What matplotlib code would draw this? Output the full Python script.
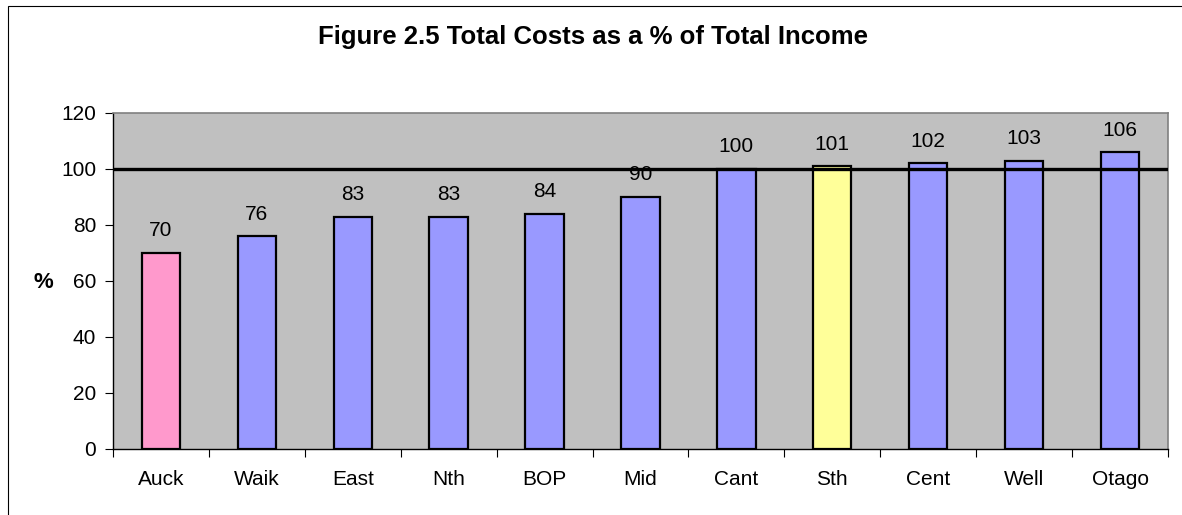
import matplotlib
matplotlib.use("Agg")
import matplotlib.pyplot as plt
from matplotlib.patches import Rectangle

categories = ["Auck", "Waik", "East", "Nth", "BOP", "Mid", "Cant", "Sth", "Cent", "Well", "Otago"]
values = [70, 76, 83, 83, 84, 90, 100, 101, 102, 103, 106]
bar_colors = ["#FF99CC", "#9999FF", "#9999FF", "#9999FF", "#9999FF", "#9999FF",
              "#9999FF", "#FFFF99", "#9999FF", "#9999FF", "#9999FF"]
yticks = [0, 20, 40, 60, 80, 100, 120]
title = "Figure 2.5 Total Costs as a % of Total Income"
reference_level = 100

plt.rcParams['font.family'] = ['Liberation Sans', 'DejaVu Sans']

W, H = 1182, 515
dpi = 100
fig = plt.figure(figsize=(W / dpi, H / dpi), dpi=dpi)
fig.patch.set_facecolor("white")

# outer chart border
fig.patches.append(Rectangle((8 / W, -0.1), 1.2, (H - 6) / H + 0.1,
                             transform=fig.transFigure, fill=False,
                             edgecolor="black", linewidth=0.8))

left, right, top, bottom = 113, 1168, 113, 449
ax = fig.add_axes([left / W, (H - bottom) / H, (right - left) / W, (bottom - top) / H])
ax.set_facecolor("#C0C0C0")

x = list(range(len(categories)))
ax.bar(x, values, width=0.4, color=bar_colors, edgecolor="black", linewidth=1.6, zorder=3)
ax.axhline(reference_level, color="black", linewidth=2.4, zorder=4)

for xi, v in zip(x, values):
    ax.annotate(str(v), (xi, v), xytext=(0, 9), textcoords="offset points",
                ha="center", va="bottom", fontsize=15)

ax.set_xlim(-0.5, len(categories) - 0.5)
ax.set_ylim(0, 120)
ax.set_yticks(yticks)
ax.set_yticklabels([str(t) for t in yticks], fontsize=15)
ax.set_xticks(x)
ax.set_xticklabels(categories, fontsize=15)
ax.tick_params(axis="x", which="major", length=0, pad=15)
ax.set_xticks([i + 0.5 for i in range(-1, len(categories))], minor=True)
ax.tick_params(axis="x", which="minor", length=6, width=0.8, direction="out")
ax.tick_params(axis="y", length=6, width=0.8, direction="out", pad=6)

for s in ["top", "right"]:
    ax.spines[s].set_color("#808080")
    ax.spines[s].set_linewidth(1.2)
for s in ["left", "bottom"]:
    ax.spines[s].set_color("black")
    ax.spines[s].set_linewidth(1.0)

fig.text(593 / W, (H - 37) / H, title, ha="center", va="center",
         fontsize=18.5, fontweight="bold")
fig.text(43 / W, (H - 282) / H, "%", ha="center", va="center",
         fontsize=16, fontweight="bold")

fig.savefig("out.png", dpi=dpi)
